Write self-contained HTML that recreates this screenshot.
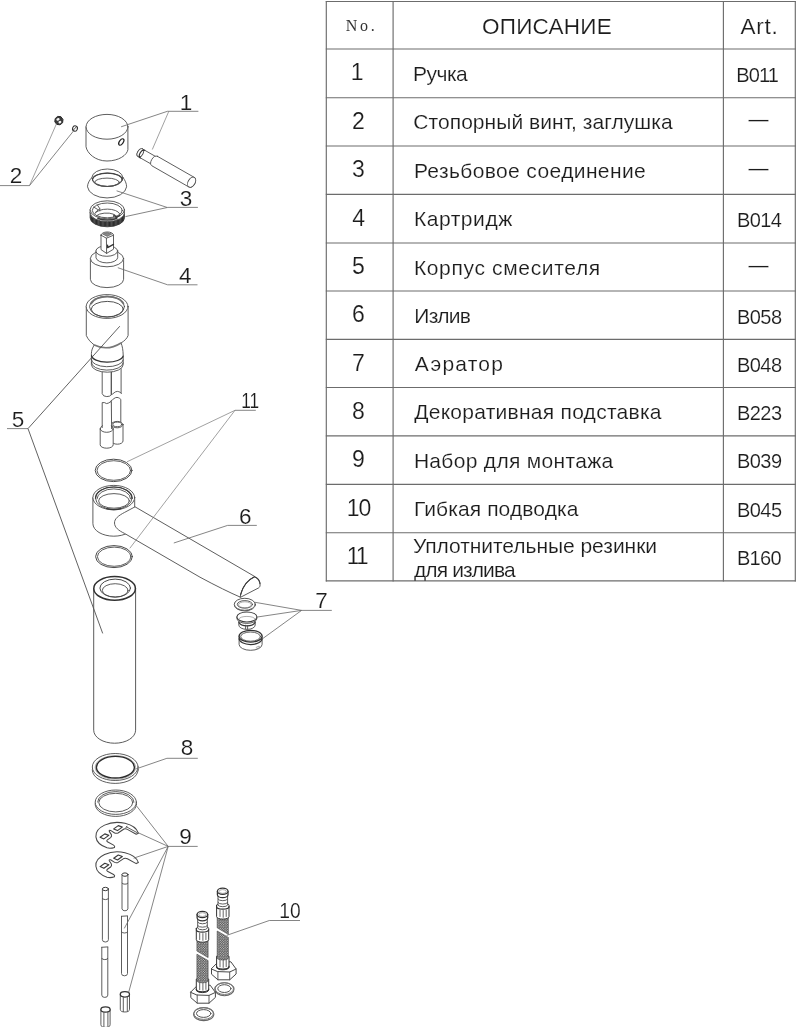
<!DOCTYPE html>
<html lang="ru"><head><meta charset="utf-8"><title>Parts diagram</title>
<style>
html,body{margin:0;padding:0;background:#fff;}
body{width:796px;height:1027px;position:relative;overflow:hidden;font-family:"Liberation Sans",sans-serif;color:#222;}
#sheet{position:absolute;left:0;top:0;width:796px;height:1027px;will-change:transform;}
#dw{position:absolute;left:0;top:0;width:796px;height:1027px;}
.tl line{stroke:#6c6c6c;stroke-width:1.15;}
.o{fill:none;stroke:#4c4c4c;stroke-width:0.9;stroke-linecap:round;stroke-linejoin:round;}
.w{fill:#fff!important;}
.k{fill:none;stroke:#333;stroke-width:1.25;stroke-linecap:round;stroke-linejoin:round;}
.t{fill:none;stroke-width:0.6;stroke:#777;}
.dk{fill:none;stroke:#222;stroke-width:1.2;}
.band{fill:url(#knp);stroke:#333;stroke-width:0.8;}
.shade{fill:#888;stroke:#555;stroke-width:0.6;}
.scr{fill:#3a3a3a;stroke:#2a2a2a;stroke-width:1;stroke-linejoin:round;}
.hl{fill:#f4f4f4;stroke:none;}
.br{fill:url(#brp);stroke:#444;stroke-width:0.6;}
.ld line{stroke:#666;stroke-width:0.8;}
.ld .l1{stroke:#787878;stroke-width:0.7;}
.ld .l3{stroke:#505050;stroke-width:0.9;}
.lb{font-family:"Liberation Sans",sans-serif;fill:#1c1c1c;stroke:#fff;stroke-width:0.15px;}
table.parts{position:absolute;left:326.3px;top:1.5px;border-collapse:collapse;border-spacing:0;table-layout:fixed;width:469px;}
table.parts th,table.parts td{padding:0;margin:0;font-weight:normal;vertical-align:top;white-space:nowrap;overflow:visible;line-height:1;}
.c1{width:66.8px;text-align:left;}
.c2{width:330.3px;text-align:left;}
.c3{width:71.9px;text-align:left;}
table.parts span{display:inline-block;position:relative;white-space:nowrap;color:#1c1c1c;-webkit-text-stroke:0.15px #fff;}
td.c1 span{font-size:23px;margin-top:12.4px;}
td.c2 span{font-size:21px;margin-top:13.8px;}
td.c2 div.two{line-height:22px;margin-top:2.4px;}
td.c2 div.two span{margin-top:0;line-height:22px;}
td.c3 span{font-size:20px;margin-top:15.7px;}
td.c3.dash span{margin-top:11.6px;}
th.no span{font-family:"Liberation Serif",serif;font-size:16px;margin-top:16px;-webkit-text-stroke:0;color:#333;}
th.hd span{font-size:22.5px;margin-top:14.6px;}
</style></head>
<body>
<div id="sheet">
<svg id="dw" width="796" height="1027" viewBox="0 0 796 1027">
<defs><pattern id="knp" width="1.3" height="4" patternUnits="userSpaceOnUse"><rect width="1.3" height="4" fill="#5a5a5a"/><rect width="0.8" height="4" fill="#2a2a2a"/></pattern><pattern id="brp" width="2.4" height="2.4" patternUnits="userSpaceOnUse"><rect width="2.4" height="2.4" fill="#4a4a4a"/><circle cx="0.6" cy="0.6" r="0.62" fill="#d8d8d8"/><circle cx="1.8" cy="1.8" r="0.62" fill="#d8d8d8"/></pattern></defs>
<g class="tl"><line x1="325.8" y1="1.5" x2="795.8" y2="1.5"/><line x1="325.8" y1="49.0" x2="795.8" y2="49.0"/><line x1="325.8" y1="97.7" x2="795.8" y2="97.7"/><line x1="325.8" y1="146.0" x2="795.8" y2="146.0"/><line x1="325.8" y1="194.3" x2="795.8" y2="194.3"/><line x1="325.8" y1="243.0" x2="795.8" y2="243.0"/><line x1="325.8" y1="291.0" x2="795.8" y2="291.0"/><line x1="325.8" y1="339.3" x2="795.8" y2="339.3"/><line x1="325.8" y1="387.5" x2="795.8" y2="387.5"/><line x1="325.8" y1="435.8" x2="795.8" y2="435.8"/><line x1="325.8" y1="484.3" x2="795.8" y2="484.3"/><line x1="325.8" y1="532.7" x2="795.8" y2="532.7"/><line x1="325.8" y1="580.9" x2="795.8" y2="580.9"/><line x1="326.3" y1="1.0" x2="326.3" y2="581.4"/><line x1="393.1" y1="1.0" x2="393.1" y2="581.4"/><line x1="723.4" y1="1.0" x2="723.4" y2="581.4"/><line x1="795.3" y1="1.0" x2="795.3" y2="581.4"/></g>
<g class="pt"><path d="M86 126.8 L86 146.7 C87 153 95 161 107 161 C119 161 127 155 127.9 149.7 L127.9 126.8" class="o w"/>
<ellipse cx="107" cy="126.8" rx="20.9" ry="12.4" class="o w"/>
<ellipse cx="121.3" cy="142" rx="1.9" ry="3.6" class="dk" transform="rotate(35 121.3 142)"/>
<path d="M55.2 118.6 L57.6 116.4 L60.8 116.6 L63 119.4 L62.6 122.8 L60 124.8 L56.8 124.4 L54.8 121.8 Z" class="scr"/>
<ellipse cx="58" cy="119.4" rx="1.7" ry="1.2" class="hl" transform="rotate(-25 58 119.4)"/>
<ellipse cx="59.9" cy="122.1" rx="1.5" ry="1.2" class="hl" transform="rotate(-25 59.9 122.1)"/>
<ellipse cx="75" cy="128.5" rx="2.4" ry="2.7" class="o w" transform="rotate(20 75 128.5)" style="stroke:#333;stroke-width:1.1"/>
<path d="M73.4 130 L76.4 126.8" class="o" style="stroke:#444;stroke-width:0.9"/>
<path d="M142.5 149 L156.5 157 A2.8 4.4 29.8 0 1 152.1 164.6 L138.1 156.6 A2.8 4.4 29.8 0 1 142.5 149 Z" class="o w"/>
<ellipse cx="140.3" cy="152.8" rx="2.8" ry="4.4" class="o w" transform="rotate(29.8 140.3 152.8)"/>
<path d="M144.7 150.3 A2.8 4.4 29.8 0 0 140.3 157.9" class="k"/>
<path d="M157.4 156.3 L194.3 177.4 A3.5 5.5 29.8 0 1 188.9 187 L151.9 165.8 A3.5 5.5 29.8 0 1 157.4 156.3 Z" class="o w"/>
<ellipse cx="191.6" cy="182.2" rx="3.5" ry="5.5" class="o w" transform="rotate(29.8 191.6 182.2)"/>
<path d="M91.9 177.5 C89.5 180 87.5 183.5 87.5 186.8 A19.6 12 0 0 0 126.6 186.8 C126.6 183.5 125 180 123 177.5" class="o w"/>
<ellipse cx="107.4" cy="177.7" rx="15.5" ry="8.7" class="o w"/>
<ellipse cx="107.4" cy="179.8" rx="14.9" ry="6.7" class="o"/>
<path d="M92.5 179.8 A14.9 6.7 0 0 1 122.3 179.8" class="k" style="stroke:#444;stroke-width:1.15"/>
<ellipse cx="107" cy="182.3" rx="12.3" ry="4.2" class="o"/>
<path d="M90.1 212.4 L90.1 217.8 A17.2 9 0 0 0 124.5 217.8 L124.5 212.4 A17.2 9 0 0 1 90.1 212.4 Z" class="band"/>
<path d="M90.1 209.8 L90.1 212.6 A17.2 9 0 0 0 124.5 212.6 L124.5 209.8 Z" class="o w"/>
<ellipse cx="107.3" cy="209.8" rx="17.2" ry="9" class="o w"/>
<ellipse cx="107.3" cy="210.4" rx="15" ry="7.4" class="o"/>
<path d="M95 213.4 A12.6 5.6 0 0 1 119.6 213.6" class="o"/>
<path d="M96.6 215.6 A10.8 4.6 0 0 1 113.6 214.2 L113.6 216.8" class="o"/>
<path d="M93.6 207 L97.6 209.4 M97.4 205 L99.8 208.6 L99.8 211 M95.4 212.4 L99.8 208.6" class="o"/>
<path d="M114.4 215 L116.6 217.4 L119.8 215.2" class="k"/>
<path d="M98 218.4 A17.2 9 0 0 0 116.6 218.4" class="k" style="stroke:#3a3a3a;stroke-width:1.6"/>
<path d="M90.4 258.5 L90.4 279.3 A16.6 8.3 0 0 0 123.6 279.3 L123.6 258.5" class="o w"/>
<ellipse cx="107" cy="258.5" rx="16.6" ry="8.3" class="o w"/>
<path d="M96 251 L96 257.8 A10.9 5.6 0 0 0 117.7 257.8 L117.7 251" class="o w"/>
<ellipse cx="106.8" cy="251" rx="10.9" ry="5.3" class="o w"/>
<path d="M101 235.2 L101 249.6 L106.6 253.4 L113.5 249.2 L113.5 235.2 A6.2 3.2 0 0 0 101 235.2 Z" class="o w"/>
<path d="M101 235.2 L106.4 238.2 L113.5 235.2 M106.4 238.2 L106.6 253.4" class="o"/>
<path d="M102.6 234 L107.2 232.6 L111.8 234 L107.2 236.4 Z" class="shade"/>
<path d="M107.6 247.6 L113.5 244.4 M107.6 247.6 L107.6 245" class="k"/>
<path d="M102.2 370.6 L102.2 393.6 Q103 396.6 106.8 396.6 Q110.4 396.6 111.3 394.6 L111.3 371.8" class="o w"/>
<path d="M111.3 371.8 L111.3 394.8 C113.4 394 114.6 391.4 117.4 391.4 C119.6 391.6 120.6 392.6 121.4 393.4 M121.1 368.8 L121.1 393" class="o"/>
<path d="M86.3 306.5 L86.3 335.5 C88 339.5 91 342.5 94.3 345 C92.6 347.5 91.4 350.5 91.4 353.6 L91.4 364.6 A15.9 7.6 0 0 0 123.2 364.6 L123.2 355 C123 350 122.4 346 121 343 C124.4 341 127 338.5 128.1 335.5 L128.1 306.5" class="o w"/>
<ellipse cx="107.1" cy="306.5" rx="20.9" ry="11.9" class="o w"/>
<ellipse cx="107" cy="306.6" rx="17.5" ry="10.4" class="o"/>
<path d="M91.2 303.6 A16.6 9.2 0 0 1 123.4 303.6" class="o" style="stroke:#707070;stroke-width:1.7"/>
<ellipse cx="107.3" cy="309.2" rx="16" ry="7.8" class="o" style="stroke:#4a4a4a;stroke-width:0.95"/>
<path d="M94.3 345 Q107.5 351.5 121 343" class="o" style="stroke-width:1.6;stroke:#777"/>
<path d="M91.6 355.6 A15.8 6.6 0 0 0 123.1 356.2" class="k"/>
<path d="M91.4 359.4 A15.9 7 0 0 0 123.2 360" class="o"/>
<path d="M91.4 362.4 A15.9 7.4 0 0 0 123.2 363" class="o"/>
<path d="M111.3 400.6 C113.4 399.4 114.6 397.4 117 397.4 C119 397.6 120 398.6 120.8 399.4 L120.8 423 L111.3 423 Z" class="o w"/>
<path d="M102.2 427.6 L102.2 402.6 L104.6 402.6 Q106.4 404.2 108.2 403.2 L111.3 401.4 L111.6 427" class="o w"/>
<path d="M111.6 424.6 L111.6 441 A5.7 3.2 0 0 0 123 441 L123 424.6" class="o w"/>
<ellipse cx="117.3" cy="424.6" rx="5.7" ry="3.2" class="o w"/>
<ellipse cx="117.3" cy="424.4" rx="4.4" ry="2.3" class="o"/>
<path d="M100.2 428.9 L100.2 444.8 A6.5 3.4 0 0 0 113.2 444.8 L113.2 428.9" class="o w"/>
<path d="M100.2 428.9 A6.5 3.4 0 0 0 113.2 428.9" class="o"/>
<path d="M100.2 428.9 Q101 426 102.4 425.6 M113.2 428.9 Q112.6 426.6 111.6 426" class="o"/>
<ellipse cx="113.6" cy="470.4" rx="18.4" ry="11.2" class="o w" style="stroke:#4a4a4a;stroke-width:1"/>
<ellipse cx="113.8" cy="470.5" rx="16.8" ry="9.8" class="o"/>
<path d="M92.9 497.6 L92.9 523.6 A20.9 12.6 0 0 0 134.7 523.6 L134.7 497.6" class="o w"/>
<ellipse cx="113.8" cy="497.6" rx="20.9" ry="12.2" class="o w"/>
<ellipse cx="113.8" cy="498.2" rx="18.3" ry="11.2" class="o"/>
<path d="M95.5 498.2 A18.3 11.2 0 0 1 132.1 498.2" class="k" style="stroke:#3a3a3a;stroke-width:1.2"/>
<path d="M97 498.8 A16.8 9.9 0 0 1 130.6 498.8" class="o"/>
<path d="M106.6 508.6 A18.3 11.2 0 0 0 121 508.6" class="k" style="stroke:#3a3a3a;stroke-width:1.3"/>
<ellipse cx="114" cy="500.9" rx="15.4" ry="7.3" class="o"/>
<path d="M134.7 507 L124.6 512.4 C118.4 515.6 114.4 518.8 114.5 523 C114.6 527.4 118.6 530.6 124.5 533.4 L200 577.2 Q225 590.6 240.2 597.1 C241.6 589 246.4 580.4 254.6 576.8 Z" class="o w"/>
<path d="M240.2 597.1 C241.4 589.4 246.4 580.4 254.6 576.8 C258 578.2 260.2 581.4 260.1 585 C260 586.6 259.6 587.2 258.9 587.7 Z" class="o w"/>
<path d="M240.6 594.6 C242.4 587.6 247 580.2 254.6 576.8 C257.8 578 259.6 580.6 260 583.6" class="k" style="stroke:#3c3c3c;stroke-width:1.1"/>
<ellipse cx="114" cy="556.6" rx="18.4" ry="11" class="o w" style="stroke:#4a4a4a;stroke-width:1"/>
<ellipse cx="114.2" cy="556.7" rx="16.8" ry="9.6" class="o"/>
<ellipse cx="244.8" cy="604.9" rx="10.5" ry="6" class="o w"/>
<ellipse cx="244.8" cy="604.3" rx="10.5" ry="6" class="o w"/>
<ellipse cx="244.9" cy="604.4" rx="7.6" ry="3.8" class="o"/>
<ellipse cx="244.9" cy="604.8" rx="6.4" ry="3" class="t"/>
<path d="M238.8 619 L238.8 625 A8.2 4.4 0 0 0 255.2 625 L255.2 619" class="o w"/>
<path d="M239 622.6 A8.2 4.2 0 0 0 255 622.6" class="k"/>
<path d="M245.6 628.8 L245.6 625.2 M247.6 629 L247.6 625.4" class="o"/>
<path d="M236.9 616.9 L236.9 618.4 A10 5 0 0 0 256.9 618.4 L256.9 616.9" class="o w"/>
<ellipse cx="246.9" cy="616.9" rx="10" ry="5" class="o w" style="stroke:#3c3c3c;stroke-width:1.05"/>
<path d="M238.4 619.4 A8.8 4 0 0 1 255.4 619.4" class="t"/>
<path d="M239.1 636.2 L239.1 644.4 A11.5 5.9 0 0 0 262.1 644.4 L262.1 636.2" class="o w"/>
<path d="M239.1 638.6 A11.5 5.9 0 0 0 262.1 638.6" class="k"/>
<ellipse cx="250.6" cy="636.2" rx="11.5" ry="5.9" class="k w"/>
<ellipse cx="250.6" cy="636.6" rx="9.9" ry="4.6" class="o"/>
<path d="M255.8 647.6 L259.2 646 L259.4 647.6 L256.4 649" class="t"/>
<path d="M93.7 588.4 L93.7 730.2 A20.9 13 0 0 0 135.6 730.2 L135.6 588.4" class="o w" style="stroke:#525252;stroke-width:0.95"/>
<ellipse cx="114.6" cy="588.4" rx="20.8" ry="11.8" class="k w" style="stroke:#303030;stroke-width:1.5"/>
<ellipse cx="115.2" cy="588.1" rx="15.3" ry="9" class="o" style="stroke:#4a4a4a;stroke-width:1"/>
<ellipse cx="115.2" cy="590.4" rx="12.9" ry="6.7" class="o"/>
<ellipse cx="115.2" cy="769.9" rx="22.9" ry="13.5" class="o w"/>
<ellipse cx="115.2" cy="767" rx="22.9" ry="13.5" class="o w"/>
<ellipse cx="115.4" cy="767.4" rx="20.2" ry="11.8" class="t"/>
<ellipse cx="115.4" cy="767.2" rx="19" ry="10.8" class="k" style="stroke:#2c2c2c;stroke-width:1.4"/>
<ellipse cx="115.8" cy="804.2" rx="20.6" ry="12.2" class="o w"/>
<ellipse cx="115.8" cy="802.2" rx="20.6" ry="12.2" class="o w"/>
<path d="M97.6 802 A18.2 10.4 0 0 1 134 802" class="o"/>
<ellipse cx="115.8" cy="802.6" rx="17" ry="9.3" class="o"/>
<path d="M114.5 847.4 C111.5 848.4 109 848.4 107 847.8 A21.5 13.5 0 1 1 138.4 833.2 L136.2 834.2 L127.4 829.4 Q125.6 828.4 124 829 L118 833 Q116 833.8 114.2 832.7 L110.6 830.4 Q108.6 829.8 109.4 831.6 L111.4 834.6 Q112 836.4 110.6 837.6 L107.4 839.9 Q106.2 840.8 107.4 841.8 L113.6 845.1 Q115.2 846.2 114.5 847.4 Z" class="o w" style="stroke:#484848;stroke-width:1.05"/>
<path d="M113.7 828.9 L118.3 825.6 L122.3 827.1 L117.5 830.6 Z" class="o" style="stroke:#3a3a3a;stroke-width:1.15"/>
<path d="M100.1 837.2 L104.8 833.9 L108.8 835.4 L103.9 838.9 Z" class="o" style="stroke:#3a3a3a;stroke-width:1.15"/>
<path d="M126.4 826.8 L137 832.6 M125.8 827.8 L127 826.2" class="o"/>
<path d="M114.5 876.8 C111.5 877.8 109 877.8 107 877.2 A21.5 13.5 0 1 1 138.4 862.6 L136.2 863.6 L127.4 858.8 Q125.6 857.8 124 858.4 L118 862.4 Q116 863.2 114.2 862.1 L110.6 859.8 Q108.6 859.2 109.4 861 L111.4 864 Q112 865.8 110.6 867 L107.4 869.3 Q106.2 870.2 107.4 871.2 L113.6 874.5 Q115.2 875.6 114.5 876.8 Z" class="o w" style="stroke:#484848;stroke-width:1.05"/>
<path d="M113.7 858.3 L118.3 855 L122.3 856.5 L117.5 860 Z" class="o" style="stroke:#3a3a3a;stroke-width:1.15"/>
<path d="M100.1 866.6 L104.8 863.3 L108.8 864.8 L103.9 868.3 Z" class="o" style="stroke:#3a3a3a;stroke-width:1.15"/>
<path d="M122 874.6 L122 908.9 A3 2.3 0 0 0 127.9 908.9 L127.9 874.6" class="o w"/>
<ellipse cx="125" cy="874.6" rx="3" ry="1.7" class="o w" style="stroke:#3a3a3a;stroke-width:1"/>
<path d="M122 883.2 A3 1.2 0 0 0 127.9 883.2" class="o"/>
<path d="M121.5 916.3 L121.5 973.5 A3 2.3 0 0 0 127.5 973.5 L127.5 916.3" class="o w"/>
<path d="M121.5 916.3 L127.5 915.9" class="o"/>
<path d="M121.5 931.8 A3 1.2 0 0 0 127.5 931.8" class="o"/>
<path d="M102.4 889 L102.4 939.7 A3 2.3 0 0 0 108.4 939.7 L108.4 889" class="o w"/>
<ellipse cx="105.4" cy="889" rx="3" ry="1.7" class="o w" style="stroke:#3a3a3a;stroke-width:1"/>
<path d="M102.4 898.4 A3 1.2 0 0 0 108.4 898.4" class="o"/>
<path d="M101.8 947.3 L101.8 995.1 A3 2.3 0 0 0 107.8 995.1 L107.8 947.3" class="o w"/>
<path d="M101.8 947.3 L107.8 946.9" class="o"/>
<path d="M101.8 958.4 A3 1.2 0 0 0 107.8 958.4" class="o"/>
<path d="M120.3 994.3 L120.3 1009.3 A4.6 2.7 0 0 0 129.5 1009.3 L129.5 994.3" class="o w"/>
<ellipse cx="124.9" cy="994.3" rx="4.6" ry="2.7" class="k w"/>
<path d="M123.3 997 L123.3 1011.6 M127.3 996.4 L127.3 1011" class="o"/>
<path d="M100.9 1009.5 L100.9 1024.7 A4.6 2.7 0 0 0 110.1 1024.7 L110.1 1009.5" class="o w"/>
<ellipse cx="105.5" cy="1009.5" rx="4.6" ry="2.7" class="k w"/>
<path d="M103.9 1012.2 L103.9 1027 M107.9 1011.6 L107.9 1026.4" class="o"/>
<path d="M211.5 968.6 L211.5 974.2 L217.9 979.8 L229.7 979.8 L236.1 974 L236.1 969" class="o w" style="stroke:#484848;stroke-width:1"/>
<path d="M211.5 968.6 L217.9 962.2 L230.9 961.8 L236.1 969 L229.7 972 L217.9 971.6 Z" class="o w" style="stroke:#484848;stroke-width:1"/>
<path d="M217.9 971.6 L217.9 979.8 M229.7 972 L229.7 979.8" class="o"/>
<path d="M216.6 956.6 L216.6 967.2 A6.2 2.6 0 0 0 229 967.2 L229 956.6 Z" class="o w" style="stroke:#333;stroke-width:1"/>
<path d="M216.6 966.4 A6.2 2.6 0 0 0 229 966.4" class="k"/>
<path d="M220 959.8 v7 M223.2 960 v7.4 M226.2 959.6 v7" class="o" style="stroke:#555;stroke-width:0.9"/>
<path d="M217.2 917.3 L228.4 917.3 L228.4 934.4 L217.2 927.8 Z" class="br"/>
<path d="M217.2 931 L228.4 937.4 L228.4 958 A5.6 2 0 0 1 217.2 958 Z" class="br"/>
<path d="M216.6 905.3 L216.6 916.7 A6.2 2.4 0 0 0 229 916.7 L229 905.3 A6.2 2.4 0 0 0 216.6 905.3 Z" class="o w" style="stroke:#333;stroke-width:1"/>
<path d="M216.6 906.7 A6.2 2.4 0 0 0 229 906.7" class="k"/>
<path d="M220 910.1 v6.4 M223.2 910.5 v6.8 M226.2 910.1 v6.4" class="o" style="stroke:#555;stroke-width:0.9"/>
<path d="M218 895.5 L218 905.1 A5 2.2 0 0 0 227.6 905.1 L227.6 895.5" class="o w"/>
<path d="M218 899.1 A5 2.2 0 0 0 227.6 899.1 M218 902.5 A5 2.2 0 0 0 227.6 902.5" class="o"/>
<path d="M217.4 891.3 L217.4 894.7 A5.3 3 0 0 0 228 894.7 L228 891.3" class="k w"/>
<ellipse cx="222.7" cy="891.3" rx="5.3" ry="3.1" class="k w"/>
<ellipse cx="222.7" cy="891.5" rx="3.6" ry="1.9" class="t"/>
<ellipse cx="224.4" cy="989.2" rx="9.6" ry="6.5" class="o w" style="stroke:#666;stroke-width:1.1"/>
<ellipse cx="224.4" cy="988.6" rx="9.2" ry="5.9" class="o" style="stroke:#777;stroke-width:1"/>
<ellipse cx="224.4" cy="988.6" rx="6.6" ry="3.9" class="o" style="stroke:#555;stroke-width:1"/>
<path d="M190.8 992 L190.8 997.6 L197.2 1003.2 L209 1003.2 L215.4 997.4 L215.4 992.4" class="o w" style="stroke:#484848;stroke-width:1"/>
<path d="M190.8 992 L197.2 985.6 L210.2 985.2 L215.4 992.4 L209 995.4 L197.2 995 Z" class="o w" style="stroke:#484848;stroke-width:1"/>
<path d="M197.2 995 L197.2 1003.2 M209 995.4 L209 1003.2" class="o"/>
<path d="M196.3 979.4 L196.3 990 A6.2 2.6 0 0 0 208.7 990 L208.7 979.4 Z" class="o w" style="stroke:#333;stroke-width:1"/>
<path d="M196.3 989.2 A6.2 2.6 0 0 0 208.7 989.2" class="k"/>
<path d="M199.7 982.6 v7 M202.9 982.8 v7.4 M205.9 982.4 v7" class="o" style="stroke:#555;stroke-width:0.9"/>
<path d="M196.9 940.4 L208.1 940.4 L208.1 957.6 L196.9 951 Z" class="br"/>
<path d="M196.9 954.2 L208.1 960.6 L208.1 980.8 A5.6 2 0 0 1 196.9 980.8 Z" class="br"/>
<path d="M196.3 928.4 L196.3 939.8 A6.2 2.4 0 0 0 208.7 939.8 L208.7 928.4 A6.2 2.4 0 0 0 196.3 928.4 Z" class="o w" style="stroke:#333;stroke-width:1"/>
<path d="M196.3 929.8 A6.2 2.4 0 0 0 208.7 929.8" class="k"/>
<path d="M199.7 933.2 v6.4 M202.9 933.6 v6.8 M205.9 933.2 v6.4" class="o" style="stroke:#555;stroke-width:0.9"/>
<path d="M197.7 918.6 L197.7 928.2 A5 2.2 0 0 0 207.3 928.2 L207.3 918.6" class="o w"/>
<path d="M197.7 922.2 A5 2.2 0 0 0 207.3 922.2 M197.7 925.6 A5 2.2 0 0 0 207.3 925.6" class="o"/>
<path d="M197.1 914.4 L197.1 917.8 A5.3 3 0 0 0 207.7 917.8 L207.7 914.4" class="k w"/>
<ellipse cx="202.4" cy="914.4" rx="5.3" ry="3.1" class="k w"/>
<ellipse cx="202.4" cy="914.6" rx="3.6" ry="1.9" class="t"/>
<ellipse cx="203.7" cy="1014.1" rx="10.2" ry="6.5" class="o w" style="stroke:#666;stroke-width:1.1"/>
<ellipse cx="203.7" cy="1013.5" rx="9.8" ry="5.9" class="o" style="stroke:#777;stroke-width:1"/>
<ellipse cx="203.7" cy="1013.5" rx="7.2" ry="3.9" class="o" style="stroke:#555;stroke-width:1"/></g>
<g class="ld"><line x1="167.4" y1="111.3" x2="198.4" y2="111.3" class="l2"/><line x1="167.4" y1="111.3" x2="121.1" y2="126.8" class="l2"/><line x1="168.8" y1="111.3" x2="152.3" y2="149.5" class="l1"/><line x1="0" y1="185.6" x2="29.5" y2="185.6" class="l2"/><line x1="29.5" y1="185.6" x2="56.5" y2="123.7" class="l1"/><line x1="29.5" y1="185.6" x2="73.9" y2="130.5" class="l2"/><line x1="167.3" y1="207.4" x2="197.9" y2="207.4" class="l2"/><line x1="167.3" y1="207.5" x2="116.6" y2="190.8" class="l2"/><line x1="167.3" y1="207.5" x2="125.4" y2="216.6" class="l2"/><line x1="167.6" y1="284.8" x2="197.5" y2="284.8" class="l2"/><line x1="167.6" y1="284.8" x2="117.8" y2="267.7" class="l2"/><line x1="7" y1="428.6" x2="28" y2="428.6" class="l2"/><line x1="28" y1="428.6" x2="119.8" y2="326.2" class="l3"/><line x1="28" y1="428.6" x2="102.7" y2="633.4" class="l3"/><line x1="235" y1="410.3" x2="255.8" y2="410.3" class="l2"/><line x1="235" y1="410.3" x2="127" y2="461.8" class="l1"/><line x1="235" y1="410.3" x2="129.8" y2="548.3" class="l1"/><line x1="227.6" y1="525.4" x2="256.8" y2="525.4" class="l2"/><line x1="227.6" y1="525.4" x2="173.8" y2="543" class="l2"/><line x1="301.6" y1="610.4" x2="331.8" y2="610.4" class="l2"/><line x1="301.6" y1="610.4" x2="254.4" y2="602.2" class="l2"/><line x1="301.6" y1="610.4" x2="257.4" y2="617" class="l2"/><line x1="301.6" y1="610.4" x2="262" y2="639.1" class="l2"/><line x1="166.9" y1="758.3" x2="197.8" y2="758.3" class="l2"/><line x1="166.9" y1="758.3" x2="135.8" y2="769" class="l2"/><line x1="168.2" y1="846.4" x2="197.7" y2="846.4" class="l2"/><line x1="168.2" y1="846.4" x2="136.7" y2="806.1" class="l2"/><line x1="168.2" y1="846.4" x2="137.7" y2="832.5" class="l2"/><line x1="168.2" y1="846.4" x2="133.6" y2="858.2" class="l2"/><line x1="168.2" y1="846.4" x2="124.3" y2="928.4" class="l2"/><line x1="168.2" y1="846.4" x2="128.6" y2="992.6" class="l2"/><line x1="269.3" y1="920.5" x2="300" y2="920.5" class="l2"/><line x1="269.3" y1="920.5" x2="226.6" y2="935.4" class="l2"/></g>
<g class="tx"><text x="186" y="109.5" font-size="22.5" text-anchor="middle" class="lb">1</text><text x="16.1" y="182.7" font-size="22.5" text-anchor="middle" class="lb">2</text><text x="186.1" y="205.9" font-size="22.5" text-anchor="middle" class="lb">3</text><text x="185.2" y="282.7" font-size="22.5" text-anchor="middle" class="lb">4</text><text x="18.1" y="426.7" font-size="22.5" text-anchor="middle" class="lb">5</text><text x="250.1" y="407.9" font-size="22.5" text-anchor="middle" class="lb" textLength="17.9" lengthAdjust="spacingAndGlyphs">11</text><text x="245.2" y="523.7" font-size="22.5" text-anchor="middle" class="lb">6</text><text x="321.6" y="607.9" font-size="22.5" text-anchor="middle" class="lb">7</text><text x="187" y="755.3" font-size="22.5" text-anchor="middle" class="lb">8</text><text x="185.6" y="843.7" font-size="22.5" text-anchor="middle" class="lb">9</text><text x="290" y="918.4" font-size="22.5" text-anchor="middle" class="lb" textLength="21.4" lengthAdjust="spacingAndGlyphs">10</text></g>
</svg>
<table class="parts">
<thead><tr style="height:47.50px"><th class="c1 no"><span style="letter-spacing:2.72px;left:19.53px">No.</span></th><th class="c2 hd"><span style="letter-spacing:0.23px;left:88.92px">ОПИСАНИЕ</span></th><th class="c3 hd"><span style="letter-spacing:0.75px;left:17.10px">Art.</span></th></tr></thead>
<tbody>
<tr style="height:48.70px"><td class="c1"><span style="left:24.48px">1</span></td><td class="c2"><span style="letter-spacing:-0.52px;left:19.98px">Ручка</span></td><td class="c3"><span style="letter-spacing:-0.88px;left:12.87px">B011</span></td></tr>
<tr style="height:48.30px"><td class="c1"><span style="left:25.74px">2</span></td><td class="c2"><span style="letter-spacing:0.05px;left:20.25px">Стопорный винт, заглушка</span></td><td class="c3 dash"><span style="left:25.02px">—</span></td></tr>
<tr style="height:48.30px"><td class="c1"><span style="left:25.65px">3</span></td><td class="c2"><span style="letter-spacing:0.38px;left:20.79px">Резьбовое соединение</span></td><td class="c3 dash"><span style="left:25.02px">—</span></td></tr>
<tr style="height:48.70px"><td class="c1"><span style="left:25.92px">4</span></td><td class="c2"><span style="letter-spacing:0.56px;left:20.79px">Картридж</span></td><td class="c3"><span style="letter-spacing:-0.56px;left:13.59px">B014</span></td></tr>
<tr style="height:48.00px"><td class="c1"><span style="left:25.65px">5</span></td><td class="c2"><span style="letter-spacing:0.66px;left:20.79px">Корпус смесителя</span></td><td class="c3 dash"><span style="left:25.02px">—</span></td></tr>
<tr style="height:48.30px"><td class="c1"><span style="left:25.65px">6</span></td><td class="c2"><span style="letter-spacing:-0.74px;left:21.24px">Излив</span></td><td class="c3"><span style="letter-spacing:-0.59px;left:13.68px">B058</span></td></tr>
<tr style="height:48.20px"><td class="c1"><span style="left:25.65px">7</span></td><td class="c2"><span style="letter-spacing:1.21px;left:21.69px">Аэратор</span></td><td class="c3"><span style="letter-spacing:-0.59px;left:13.68px">B048</span></td></tr>
<tr style="height:48.30px"><td class="c1"><span style="left:25.65px">8</span></td><td class="c2"><span style="letter-spacing:0.26px;left:21.15px">Декоративная подставка</span></td><td class="c3"><span style="letter-spacing:-0.59px;left:13.68px">B223</span></td></tr>
<tr style="height:48.50px"><td class="c1"><span style="left:25.65px">9</span></td><td class="c2"><span style="letter-spacing:0.32px;left:20.79px">Набор для монтажа</span></td><td class="c3"><span style="letter-spacing:-0.59px;left:13.68px">B039</span></td></tr>
<tr style="height:48.40px"><td class="c1"><span style="letter-spacing:-1.00px;left:20.40px">10</span></td><td class="c2"><span style="letter-spacing:0.11px;left:20.79px">Гибкая подводка</span></td><td class="c3"><span style="letter-spacing:-0.59px;left:13.68px">B045</span></td></tr>
<tr style="height:48.20px"><td class="c1"><span style="letter-spacing:-2.20px;left:20.52px">11</span></td><td class="c2"><div class="two"><span style="letter-spacing:-0.04px;left:19.80px">Уплотнительные резинки</span><br><span style="letter-spacing:-0.84px;left:20.79px">для излива</span></div></td><td class="c3"><span style="letter-spacing:-0.69px;left:13.59px">B160</span></td></tr>
</tbody></table>
</div>
</body></html>
